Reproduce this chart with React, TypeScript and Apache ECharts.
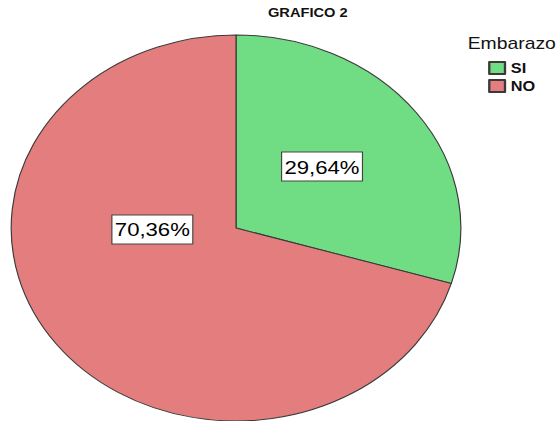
import React, { useEffect, useRef } from "react";
import * as echarts from "echarts";

// Embarazo share by answer
const categories = ["SI", "NO"];
const percentages = [29.64, 70.36];
const sliceColors = ["#70DC84", "#E47E7E"];

const chartTitle = "GRAFICO 2";
const legendTitle = "Embarazo";

// the chart is laid out on a narrower canvas and widened horizontally
const FULL_W = 558;
const FULL_H = 421;
const INNER_W = 479;

const FONT = "'Liberation Sans', Arial, Helvetica, sans-serif";

const fmt = (v: number) => `${v.toFixed(2).replace(".", ",")}%`;

export default function App() {
  const ref = useRef<HTMLDivElement>(null);

  useEffect(() => {
    if (!ref.current) return;
    const chart = echarts.init(ref.current, undefined, { renderer: "svg" });
    chart.setOption({
      animation: false,
      backgroundColor: "#ffffff",
      title: [
        {
          text: chartTitle,
          left: 230,
          top: 6,
          padding: 0,
          textStyle: { fontFamily: FONT, fontSize: 12.6, fontWeight: "bold", color: "#111" },
        },
        {
          text: legendTitle,
          left: 401.5,
          top: 35,
          padding: 0,
          textStyle: { fontFamily: FONT, fontSize: 16.6, fontWeight: "normal", color: "#111" },
        },
      ],
      legend: {
        orient: "vertical",
        left: 419,
        top: 61,
        padding: 0,
        itemWidth: 13.5,
        itemHeight: 12,
        itemGap: 4,
        icon: "rect",
        data: categories,
        textStyle: { fontFamily: FONT, fontSize: 14, fontWeight: "bold", color: "#111" },
      },
      series: [
        {
          type: "pie",
          center: [202.6, 228],
          radius: 193,
          startAngle: 90,
          clockwise: true,
          avoidLabelOverlap: false,
          silent: true,
          itemStyle: { borderColor: "#3a3a3a", borderWidth: 1 },
          label: {
            show: true,
            position: "inside",
            formatter: (p: any) => fmt(p.value),
            fontFamily: FONT,
            fontSize: 19,
            lineHeight: 23,
            color: "#000",
            backgroundColor: "#ffffff",
            borderColor: "#444",
            borderWidth: 1,
            padding: [3, 2, 2, 2],
          },
          labelLine: { show: false },
          labelLayout: (params: any) =>
            params.dataIndex === 1 ? { dx: 8, dy: -58 } : { dx: -6, dy: -2 },
          data: categories.map((name, i) => ({
            name,
            value: percentages[i],
            itemStyle: { color: sliceColors[i] },
          })),
        },
      ],
    });
    return () => chart.dispose();
  }, []);

  return (
    <div
      style={{
        position: "absolute",
        left: 0,
        top: 0,
        width: FULL_W,
        height: FULL_H,
        overflow: "hidden",
        background: "#fff",
      }}
    >
      <div
        ref={ref}
        style={{
          width: INNER_W,
          height: FULL_H,
          transform: `scaleX(${FULL_W / INNER_W})`,
          transformOrigin: "0 0",
        }}
      />
    </div>
  );
}
